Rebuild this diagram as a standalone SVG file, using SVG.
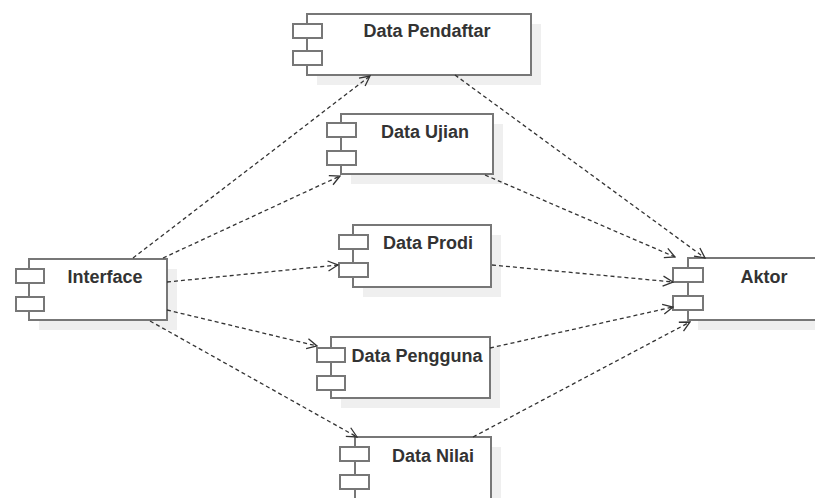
<svg xmlns="http://www.w3.org/2000/svg" width="815" height="498" viewBox="0 0 815 498">
<style>
.shadow{fill:#efefef;stroke:none}
.box{fill:#ffffff;stroke:#777777;stroke-width:2}
.port{fill:#ffffff;stroke:#777777;stroke-width:2}
.label{font-family:"Liberation Sans",Arial,sans-serif;font-size:18px;font-weight:bold;fill:#333333;text-anchor:middle}
.conn{fill:none;stroke:#333333;stroke-width:1.3;stroke-dasharray:4 3}
</style>
<defs>
<marker id="arr" viewBox="0 0 12 12" refX="11" refY="6" markerWidth="12" markerHeight="12" markerUnits="userSpaceOnUse" orient="auto">
<path d="M1,1 L11,6 L1,11" fill="none" stroke="#333333" stroke-width="1.3"/>
</marker>
</defs>
<rect width="815" height="498" fill="#ffffff"/>
<g id="shadows">
<rect class="shadow" x="317" y="24" width="224" height="61"/>
<rect class="shadow" x="351" y="124" width="152" height="60"/>
<rect class="shadow" x="39" y="269" width="138" height="61"/>
<rect class="shadow" x="363" y="235" width="138" height="62"/>
<rect class="shadow" x="341" y="347" width="159" height="61"/>
<rect class="shadow" x="367" y="447" width="134" height="70"/>
<rect class="shadow" x="698" y="268" width="140" height="62"/>
</g>
<g id="node-pendaftar">
<rect class="box" x="307" y="14" width="224" height="61"/>
<rect class="port" x="293" y="24" width="29" height="14"/>
<rect class="port" x="293" y="51" width="29" height="14"/>
<text class="label" x="427" y="37">Data Pendaftar</text>
</g>
<g id="node-ujian">
<rect class="box" x="341" y="114" width="152" height="60"/>
<rect class="port" x="327" y="123" width="29" height="14"/>
<rect class="port" x="327" y="151" width="29" height="14"/>
<text class="label" x="425" y="138">Data Ujian</text>
</g>
<g id="node-interface">
<rect class="box" x="29" y="259" width="138" height="61"/>
<rect class="port" x="16" y="269" width="28" height="14"/>
<rect class="port" x="16" y="297" width="28" height="14"/>
<text class="label" x="105" y="283">Interface</text>
</g>
<g id="node-prodi">
<rect class="box" x="353" y="225" width="138" height="62"/>
<rect class="port" x="339" y="235" width="29" height="14"/>
<rect class="port" x="339" y="263" width="29" height="14"/>
<text class="label" x="428" y="249">Data Prodi</text>
</g>
<g id="node-pengguna">
<rect class="box" x="331" y="337" width="159" height="61"/>
<rect class="port" x="317" y="348" width="28" height="14"/>
<rect class="port" x="317" y="376" width="28" height="14"/>
<text class="label" x="417" y="362">Data Pengguna</text>
</g>
<g id="node-nilai">
<rect class="box" x="355" y="437" width="136" height="70"/>
<rect class="port" x="340" y="447" width="29" height="14"/>
<rect class="port" x="340" y="475" width="29" height="14"/>
<text class="label" x="433" y="462">Data Nilai</text>
</g>
<g id="node-aktor">
<rect class="box" x="688" y="258" width="140" height="62"/>
<rect class="port" x="673" y="268" width="30" height="14"/>
<rect class="port" x="673" y="296" width="30" height="14"/>
<text class="label" x="764" y="283">Aktor</text>
</g>
<g id="connectors">
<line class="conn" x1="133" y1="258" x2="370" y2="76" marker-end="url(#arr)"/>
<line class="conn" x1="163" y1="258" x2="340" y2="176" marker-end="url(#arr)"/>
<line class="conn" x1="167" y1="282" x2="338" y2="265" marker-end="url(#arr)"/>
<line class="conn" x1="167" y1="310" x2="317" y2="346" marker-end="url(#arr)"/>
<line class="conn" x1="150" y1="321" x2="357" y2="437" marker-end="url(#arr)"/>
<line class="conn" x1="455" y1="75" x2="705" y2="258" marker-end="url(#arr)"/>
<line class="conn" x1="485" y1="175" x2="675" y2="257" marker-end="url(#arr)"/>
<line class="conn" x1="492" y1="265" x2="673" y2="282" marker-end="url(#arr)"/>
<line class="conn" x1="490" y1="348" x2="673" y2="307" marker-end="url(#arr)"/>
<line class="conn" x1="473" y1="437" x2="690" y2="322" marker-end="url(#arr)"/>
</g>
</svg>
